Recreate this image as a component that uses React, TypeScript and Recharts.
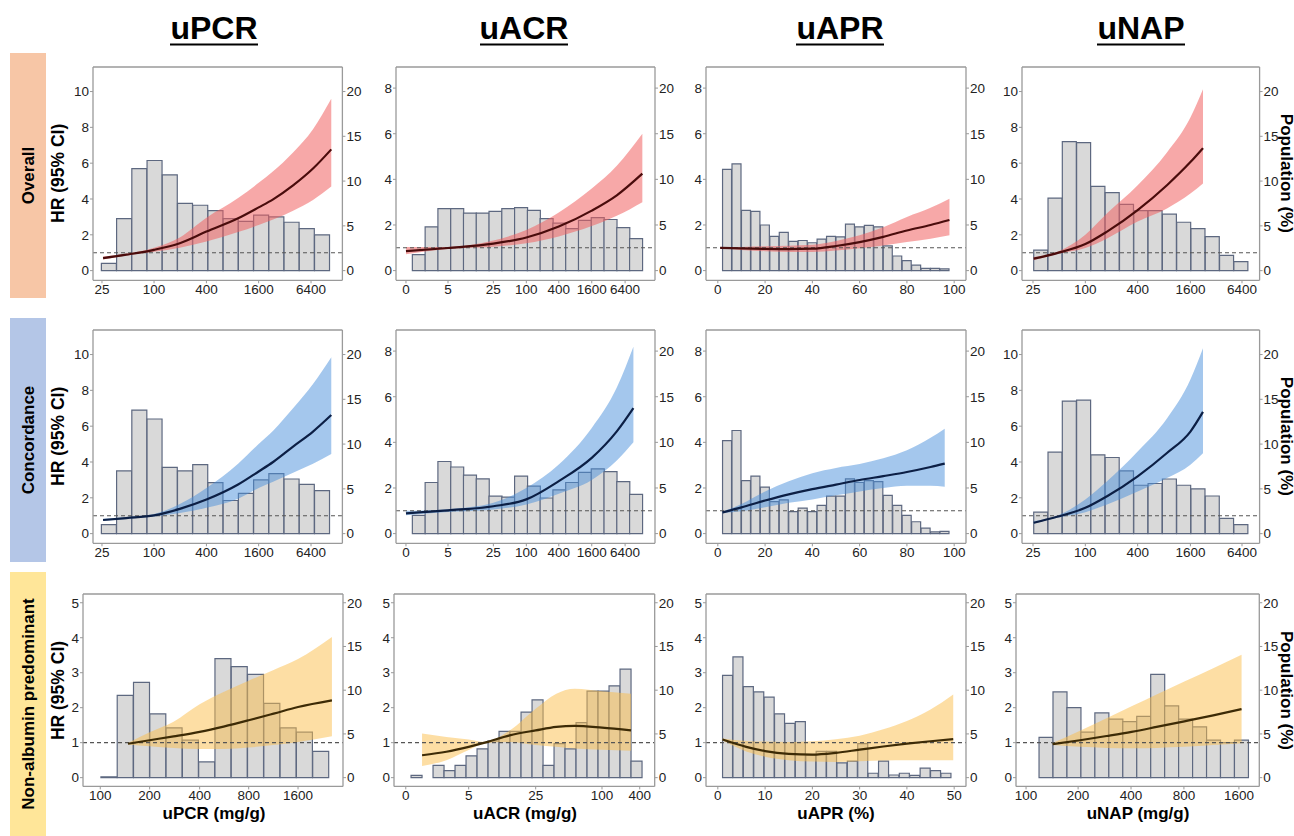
import React from 'react';
import { ComposedChart, Bar, Area, Line, XAxis, YAxis, ReferenceLine } from 'recharts';

// ---------- tick labels ----------
const pcrLabels = ['25', '100', '400', '1600', '6400'];
const acrLabels = ['0', '5', '25', '100', '400', '1600', '6400'];
const aprLabels = ['0', '20', '40', '60', '80', '100'];
const napLabels = ['25', '100', '400', '1600', '6400'];
const pcrNapLabels = ['100', '200', '400', '800', '1600'];
const acrNapLabels = ['0', '5', '25', '100', '400'];
const aprNapLabels = ['0', '10', '20', '30', '40', '50'];
const napNapLabels = ['100', '200', '400', '800', '1600'];

// tick positions (histogram-bin units for transformed axes, % for uAPR)
const pcrTicks = [0.04, 3.46, 6.9, 10.33, 13.77];
const acrTicks = [-0.5, 2.79, 6.34, 8.92, 11.46, 14.04, 16.65];
const aprTicks = [0, 20, 40, 60, 80, 100];
const napTicks = [-0.05, 3.61, 7.27, 10.96, 14.57];
const pcrNapTicks = [-0.04, 2.99, 6.06, 9.07, 12.1];
const acrNapTicks = [-0.48, 5.24, 11.33, 17.36, 20.79];
const aprNapTicks = [0, 10, 20, 30, 40, 50];
const napNapTicks = [-0.93, 2.8, 6.59, 10.38, 14.32];

const hrTicks10 = [0, 2, 4, 6, 8, 10];
const hrTicks8 = [0, 2, 4, 6, 8];
const hrTicks5 = [0, 1, 2, 3, 4, 5];
const popTicks = [0, 5, 10, 15, 20];

// ---------- Row 1 : Overall ----------
const p1Pop = [0.8, 5.8, 11.4, 12.3, 10.7, 7.5, 7.3, 6.7, 5.8, 5.5, 6.2, 6.0, 5.4, 4.7, 4.0];
const pcrCurveX = [0.11, 1.64, 3.46, 5.15, 6.9, 8.98, 10.33, 11.28, 12.59, 13.9, 15.1];
const p1Hr = [0.7, 0.89, 1.16, 1.53, 2.18, 2.92, 3.53, 3.98, 4.76, 5.7, 6.77];
const p1Lo = [0.62, 0.84, 1.05, 1.28, 1.62, 2.15, 2.55, 2.85, 3.35, 3.95, 4.7];
const p1Hi = [0.79, 0.94, 1.28, 1.85, 2.95, 4.05, 4.9, 5.55, 6.6, 7.9, 9.6];

const p2Pop = [1.75, 4.8, 6.8, 6.8, 6.3, 6.3, 6.5, 6.8, 6.9, 6.6, 5.7, 5.2, 4.6, 5.5, 5.8, 5.6, 4.7, 3.5];
const p2X = [-0.5, 2.79, 6.34, 8.92, 11.46, 14.04, 16.0, 18.0];
const p2Hr = [0.85, 0.99, 1.18, 1.45, 1.93, 2.63, 3.3, 4.25];
const p2Lo = [0.72, 0.95, 1.05, 1.2, 1.5, 1.95, 2.4, 3.0];
const p2Hi = [1.04, 1.04, 1.32, 1.78, 2.55, 3.6, 4.6, 6.0];

const p3Pop = [11.1, 11.7, 6.6, 6.5, 5.0, 3.75, 4.2, 3.2, 3.3, 3.05, 3.45, 3.75, 3.7, 5.1, 4.8, 4.95, 4.8, 2.7, 1.6, 1.1, 0.6, 0.25, 0.25, 0.2];
const p3X = [1, 10, 20, 30, 40, 50, 60, 70, 80, 90, 98];
const p3Hr = [1.0, 0.97, 0.95, 0.94, 0.96, 1.08, 1.25, 1.48, 1.76, 2.0, 2.22];
const p3Lo = [0.99, 0.9, 0.85, 0.82, 0.82, 0.88, 0.98, 1.1, 1.25, 1.4, 1.55];
const p3Hi = [1.01, 1.04, 1.07, 1.09, 1.13, 1.3, 1.55, 1.9, 2.35, 2.75, 3.15];

const p4Pop = [2.3, 8.1, 14.4, 14.3, 9.4, 8.7, 7.4, 6.7, 6.7, 6.3, 5.4, 4.7, 3.8, 1.7, 1.0];
const napCurveX = [0, 1.63, 3.61, 5.13, 7.27, 9.32, 10.96, 11.84];
const p4Hr = [0.67, 0.98, 1.48, 2.18, 3.38, 4.77, 6.06, 6.84];
const p4Lo = [0.58, 0.93, 1.26, 1.8, 2.74, 3.47, 4.3, 4.86];
const p4Hi = [0.76, 1.04, 2.0, 3.2, 4.77, 6.6, 8.55, 10.13];

// ---------- Row 2 : Concordance ----------
const p5Pop = [1.0, 7.0, 13.8, 12.8, 7.4, 7.0, 7.7, 5.7, 3.7, 4.5, 6.0, 6.7, 6.1, 5.5, 4.8];
const p5Hr = [0.76, 0.87, 1.02, 1.38, 1.9, 2.74, 3.47, 4.0, 4.86, 5.7, 6.62];
const p5Lo = [0.7, 0.82, 0.95, 1.15, 1.44, 1.95, 2.55, 2.9, 3.4, 3.9, 4.44];
const p5Hi = [0.83, 0.93, 1.1, 1.65, 2.55, 3.9, 5.0, 5.75, 7.0, 8.35, 9.85];

const p6Pop = [2.0, 5.6, 7.9, 7.3, 6.4, 6.0, 4.1, 4.0, 6.3, 5.2, 3.9, 4.8, 5.6, 6.7, 7.1, 6.8, 5.7, 4.3];
const p6X = [-0.5, 2.79, 6.34, 8.92, 11.46, 14.04, 16.0, 17.3];
const p6Hr = [0.89, 1.02, 1.2, 1.5, 2.3, 3.32, 4.48, 5.5];
const p6Lo = [0.8, 0.95, 1.06, 1.28, 1.75, 2.35, 3.2, 4.0];
const p6Hi = [1.0, 1.07, 1.35, 2.0, 3.03, 4.63, 6.4, 8.19];

const p7Pop = [10.2, 11.3, 5.8, 6.3, 5.1, 3.5, 3.7, 2.4, 2.8, 2.4, 3.1, 4.1, 4.1, 6.0, 5.6, 5.8, 5.7, 4.2, 3.1, 2.0, 1.3, 0.6, 0.2, 0.25];
const p7X = [2, 10, 20, 30, 40, 50, 60, 70, 80, 90, 96];
const p7Hr = [0.93, 1.15, 1.45, 1.72, 1.95, 2.15, 2.35, 2.52, 2.7, 2.92, 3.07];
const p7Lo = [0.9, 0.98, 1.15, 1.35, 1.5, 1.68, 1.85, 2.0, 2.1, 2.1, 2.05];
const p7Hi = [0.96, 1.3, 1.85, 2.3, 2.65, 2.88, 3.05, 3.3, 3.65, 4.2, 4.6];

const p8Pop = [2.4, 9.1, 14.8, 14.9, 8.8, 8.5, 7.0, 5.4, 5.6, 6.1, 5.4, 5.0, 4.2, 1.7, 1.0];
const p8Hr = [0.61, 0.94, 1.44, 2.09, 3.2, 4.5, 5.7, 6.8];
const p8Lo = [0.55, 0.88, 1.2, 1.63, 2.35, 3.1, 3.85, 4.49];
const p8Hi = [0.7, 1.0, 1.9, 2.92, 4.58, 6.43, 8.6, 10.35];

// ---------- Row 3 : Non-albumin predominant ----------
const p9Pop = [0.1, 9.4, 10.9, 7.3, 5.7, 4.3, 1.8, 13.6, 12.7, 11.8, 8.5, 5.7, 5.2, 3.0];
const p9X = [1.66, 2.99, 4.46, 6.06, 7.53, 9.07, 10.6, 12.1, 14.18];
const p9Hr = [0.97, 1.07, 1.18, 1.31, 1.46, 1.64, 1.83, 2.02, 2.21];
const p9Lo = [0.95, 0.9, 0.85, 0.82, 0.82, 0.86, 0.93, 1.02, 1.18];
const p9Hi = [0.99, 1.3, 1.6, 2.1, 2.45, 2.77, 3.08, 3.39, 4.02];

const p10Pop = [0.25, 0, 1.4, 0.8, 1.4, 2.5, 3.3, 4.2, 5.3, 5.3, 7.5, 8.9, 1.4, 3.9, 3.3, 6.3, 9.9, 9.9, 10.5, 12.4, 1.9];
const p10X = [1.0, 3.21, 5.24, 6.7, 8.97, 11.33, 13.21, 14.88, 17.36, 20.0];
const p10Hr = [0.64, 0.74, 0.88, 1.0, 1.21, 1.35, 1.45, 1.48, 1.43, 1.35];
const p10Lo = [0.33, 0.5, 0.79, 0.98, 1.02, 0.93, 0.88, 0.83, 0.8, 0.77];
const p10Hi = [1.26, 1.16, 1.09, 1.02, 1.35, 1.97, 2.4, 2.54, 2.47, 2.4];

const p11Pop = [11.7, 13.8, 10.4, 9.8, 9.2, 7.3, 6.2, 6.4, 2.6, 3.0, 3.0, 1.7, 1.9, 3.9, 0.5, 1.9, 0.3, 0.5, 0.25, 1.1, 0.8, 0.5];
const p11X = [1, 6, 10, 15, 20, 25, 30, 35, 40, 45, 49.8];
const p11Hr = [1.09, 0.88, 0.76, 0.68, 0.66, 0.71, 0.8, 0.89, 0.97, 1.04, 1.1];
const p11Lo = [1.06, 0.75, 0.6, 0.5, 0.46, 0.45, 0.47, 0.49, 0.5, 0.5, 0.5];
const p11Hi = [1.12, 1.05, 1.03, 1.02, 1.04, 1.1, 1.2, 1.38, 1.62, 1.95, 2.38];

const p12Pop = [4.6, 9.8, 8.0, 5.2, 7.4, 6.7, 6.4, 7.0, 11.8, 8.2, 6.7, 5.8, 4.3, 4.0, 4.3];
const p12X = [0.98, 2.94, 4.84, 6.63, 8.42, 10.41, 12.48, 14.51];
const p12Hr = [0.96, 1.07, 1.19, 1.31, 1.45, 1.61, 1.78, 1.96];
const p12Lo = [0.93, 0.88, 0.85, 0.84, 0.85, 0.88, 0.93, 0.98];
const p12Hi = [0.99, 1.34, 1.7, 2.04, 2.38, 2.75, 3.13, 3.51];

// ---------- text ----------
const columnTitles = ['uPCR', 'uACR', 'uAPR', 'uNAP'];
const rowTitles = ['Overall', 'Concordance', 'Non-albumin predominant'];
const xTitles = ['uPCR (mg/g)', 'uACR (mg/g)', 'uAPR (%)', 'uNAP (mg/g)'];

// ---------- styling ----------
const FONT = '"Liberation Sans", Arial, Helvetica, sans-serif';
const THEMES: Record<string, { band: string; op: number; line: string }> = {
  overall: { band: '#f06060', op: 0.55, line: '#4a0c0c' },
  conc: { band: '#4a8fdb', op: 0.5, line: '#0c1f45' },
  nap: { band: '#fbbd4a', op: 0.5, line: '#3d2b06' },
};
const BORDER = '#9a9a9a';

type Cfg = {
  pops: number[]; binStart: number; binWidth: number;
  xDomain: [number, number]; ticks: number[]; tickLabels: string[];
  yDomain: [number, number]; yTicks: number[]; k: number;
  cx: number[]; hr: number[]; lo: number[]; hi: number[];
  theme: string;
};

const Y10: [number, number] = [-0.54, 11.37];
const Y8: [number, number] = [-0.425, 8.925];
const Y5: [number, number] = [-0.25, 5.25];

const panels: Cfg[] = [
  { pops: p1Pop, binStart: 0, binWidth: 1, xDomain: [-0.55, 15.83], ticks: pcrTicks, tickLabels: pcrLabels, yDomain: Y10, yTicks: hrTicks10, k: 2, cx: pcrCurveX, hr: p1Hr, lo: p1Lo, hi: p1Hi, theme: 'overall' },
  { pops: p2Pop, binStart: 0, binWidth: 1, xDomain: [-1.28, 18.99], ticks: acrTicks, tickLabels: acrLabels, yDomain: Y8, yTicks: hrTicks8, k: 2.5, cx: p2X, hr: p2Hr, lo: p2Lo, hi: p2Hi, theme: 'overall' },
  { pops: p3Pop, binStart: 2, binWidth: 4, xDomain: [-5, 105], ticks: aprTicks, tickLabels: aprLabels, yDomain: Y8, yTicks: hrTicks8, k: 2.5, cx: p3X, hr: p3Hr, lo: p3Lo, hi: p3Hi, theme: 'overall' },
  { pops: p4Pop, binStart: 0, binWidth: 1, xDomain: [-0.82, 15.8], ticks: napTicks, tickLabels: napLabels, yDomain: Y10, yTicks: hrTicks10, k: 2, cx: napCurveX, hr: p4Hr, lo: p4Lo, hi: p4Hi, theme: 'overall' },
  { pops: p5Pop, binStart: 0, binWidth: 1, xDomain: [-0.55, 15.83], ticks: pcrTicks, tickLabels: pcrLabels, yDomain: Y10, yTicks: hrTicks10, k: 2, cx: pcrCurveX, hr: p5Hr, lo: p5Lo, hi: p5Hi, theme: 'conc' },
  { pops: p6Pop, binStart: 0, binWidth: 1, xDomain: [-1.28, 18.99], ticks: acrTicks, tickLabels: acrLabels, yDomain: Y8, yTicks: hrTicks8, k: 2.5, cx: p6X, hr: p6Hr, lo: p6Lo, hi: p6Hi, theme: 'conc' },
  { pops: p7Pop, binStart: 2, binWidth: 4, xDomain: [-5, 105], ticks: aprTicks, tickLabels: aprLabels, yDomain: Y8, yTicks: hrTicks8, k: 2.5, cx: p7X, hr: p7Hr, lo: p7Lo, hi: p7Hi, theme: 'conc' },
  { pops: p8Pop, binStart: 0, binWidth: 1, xDomain: [-0.82, 15.8], ticks: napTicks, tickLabels: napLabels, yDomain: Y10, yTicks: hrTicks10, k: 2, cx: napCurveX, hr: p8Hr, lo: p8Lo, hi: p8Hi, theme: 'conc' },
  { pops: p9Pop, binStart: 0, binWidth: 1, xDomain: [-1.1, 14.86], ticks: pcrNapTicks, tickLabels: pcrNapLabels, yDomain: Y5, yTicks: hrTicks5, k: 4, cx: p9X, hr: p9Hr, lo: p9Lo, hi: p9Hi, theme: 'nap' },
  { pops: p10Pop, binStart: 0, binWidth: 1, xDomain: [-1.55, 22.15], ticks: acrNapTicks, tickLabels: acrNapLabels, yDomain: Y5, yTicks: hrTicks5, k: 4, cx: p10X, hr: p10Hr, lo: p10Lo, hi: p10Hi, theme: 'nap' },
  { pops: p11Pop, binStart: 1, binWidth: 2.2, xDomain: [-2.5, 52.5], ticks: aprNapTicks, tickLabels: aprNapLabels, yDomain: Y5, yTicks: hrTicks5, k: 4, cx: p11X, hr: p11Hr, lo: p11Lo, hi: p11Hi, theme: 'nap' },
  { pops: p12Pop, binStart: 0, binWidth: 1, xDomain: [-1.65, 15.78], ticks: napNapTicks, tickLabels: napNapLabels, yDomain: Y5, yTicks: hrTicks5, k: 4, cx: p12X, hr: p12Hr, lo: p12Lo, hi: p12Hi, theme: 'nap' },
];

// plot-area rectangles (page px)
const ROWS = [{ top: 66.7, h: 213.3 }, { top: 329.7, h: 213.3 }, { top: 594.3, h: 192.4 }];
const COLS = [
  [[93.3, 342.7], [396, 655], [706, 966], [1021.7, 1259.3]],
  [[93.3, 342.7], [396, 655], [706, 966], [1021.7, 1259.3]],
  [[82.7, 342.7], [394.3, 655], [706, 966], [1016, 1259.3]],
];

const TICK = { fontSize: 13.5, fill: '#222', fontFamily: FONT };
const AXIS_LINE = { stroke: BORDER, strokeWidth: 1.3 };
const TICK_LINE = { stroke: BORDER, strokeWidth: 1 };

function Panel({ cfg, left, right, top, h }: { cfg: Cfg; left: number; right: number; top: number; h: number }) {
  const LW = 34, RW = 34, MT = 3, TOPH = 1, XH = 24;
  const plotW = right - left;
  const width = plotW + LW + RW;
  const height = h + MT + TOPH + XH;
  const [x0, x1] = cfg.xDomain;
  const span = x1 - x0;
  const binEnd = cfg.binStart + cfg.pops.length * cfg.binWidth;
  const padL = ((cfg.binStart - x0) / span) * plotW;
  const padR = ((x1 - binEnd) / span) * plotW;
  const binData = cfg.pops.map((p, i) => ({ bin: i, pop: p }));
  const curve = cfg.cx.map((x, i) => ({ x, hr: cfg.hr[i], band: [cfg.lo[i], cfg.hi[i]] }));
  const th = THEMES[cfg.theme];
  const [y0, y1] = cfg.yDomain;
  const fmt = (v: number) => {
    let best = 0;
    cfg.ticks.forEach((t, i) => { if (Math.abs(t - v) < Math.abs(cfg.ticks[best] - v)) best = i; });
    return cfg.tickLabels[best];
  };
  return (
    <div style={{ position: 'absolute', left: left - LW, top: top - MT - TOPH }}>
      <ComposedChart width={width} height={height} data={binData} margin={{ top: MT, right: 0, bottom: 0, left: 0 }} barCategoryGap={0} barGap={0}>
        <XAxis xAxisId="num" dataKey="x" type="number" domain={[x0, x1]} allowDataOverflow ticks={cfg.ticks} interval={0}
          tickFormatter={fmt} height={XH} tickSize={3} tickMargin={1} axisLine={AXIS_LINE} tickLine={TICK_LINE} tick={TICK} />
        <XAxis xAxisId="bins" dataKey="bin" type="category" hide height={0} padding={{ left: padL, right: padR }} />
        <XAxis xAxisId="top" orientation="top" type="number" domain={[x0, x1]} allowDataOverflow height={TOPH} tick={false} tickLine={false} axisLine={AXIS_LINE} />
        <YAxis yAxisId="left" type="number" domain={[y0, y1]} allowDataOverflow ticks={cfg.yTicks} interval={0} width={LW}
          tickSize={3} tickMargin={1} axisLine={AXIS_LINE} tickLine={TICK_LINE} tick={TICK} />
        <YAxis yAxisId="right" orientation="right" type="number" domain={[y0 * cfg.k, y1 * cfg.k]} allowDataOverflow ticks={popTicks} interval={0} width={RW}
          tickSize={3} tickMargin={1} axisLine={AXIS_LINE} tickLine={TICK_LINE} tick={TICK} />
        <Bar xAxisId="bins" yAxisId="right" dataKey="pop" fill="#d9d9d9" stroke="#5d6880" strokeWidth={1.2} isAnimationActive={false} zIndex={90} />
        <Area xAxisId="num" yAxisId="left" data={curve} dataKey="band" type="monotone" stroke="none" fill={th.band} fillOpacity={th.op}
          isAnimationActive={false} dot={false} activeDot={false} zIndex={100} />
        <ReferenceLine xAxisId="num" yAxisId="left" y={1} stroke="#555" strokeDasharray="4 3" strokeWidth={1.1} zIndex={110} />
        <Line xAxisId="num" yAxisId="left" data={curve} dataKey="hr" type="monotone" stroke={th.line} strokeWidth={2.2}
          dot={false} activeDot={false} isAnimationActive={false} zIndex={400} />
      </ComposedChart>
    </div>
  );
}

const ROW_BOX = [
  { y: 53, h: 245, fill: '#f7c6a6' },
  { y: 318, h: 244, fill: '#b4c6e7' },
  { y: 572, h: 264, fill: '#ffe699' },
];
const TITLE_X = [214, 524, 840, 1141];
const XTITLE_X = [214, 525, 836, 1138];

export default function App() {
  return (
    <div style={{ position: 'absolute', left: 0, top: 0, width: 1294, height: 836, background: '#fff', fontFamily: FONT, overflow: 'hidden' }}>
      <svg width={1294} height={836} style={{ position: 'absolute', left: 0, top: 0 }}>
        {ROW_BOX.map((b, i) => (
          <g key={i}>
            <rect x={10} y={b.y} width={36} height={b.h} fill={b.fill} />
            <text transform={`translate(28, ${b.y + b.h / 2}) rotate(-90)`} textAnchor="middle" dominantBaseline="central"
              fontSize={17} fontWeight="bold" fill="#000" fontFamily={FONT}>{rowTitles[i]}</text>
          </g>
        ))}
        {columnTitles.map((t, i) => (
          <g key={t}>
            <text x={TITLE_X[i]} y={39} textAnchor="middle" fontSize={32} fontWeight="bold" fill="#000" fontFamily={FONT}>{t}</text>
            <line x1={TITLE_X[i] - 44} x2={TITLE_X[i] + 44} y1={44.5} y2={44.5} stroke="#000" strokeWidth={2} />
          </g>
        ))}
        {ROWS.map((r, i) => (
          <g key={i}>
            <text transform={`translate(58, ${r.top + r.h / 2}) rotate(-90)`} textAnchor="middle" dominantBaseline="central"
              fontSize={17.5} fontWeight="bold" fill="#000" fontFamily={FONT}>HR (95% CI)</text>
            <text transform={`translate(1286, ${r.top + r.h / 2}) rotate(90)`} textAnchor="middle" dominantBaseline="central"
              fontSize={17} fontWeight="bold" fill="#000" fontFamily={FONT}>Population (%)</text>
          </g>
        ))}
        {xTitles.map((t, i) => (
          <text key={t} x={XTITLE_X[i]} y={819} textAnchor="middle" fontSize={17} fontWeight="bold" fill="#000" fontFamily={FONT}>{t}</text>
        ))}
      </svg>
      {panels.map((cfg, i) => {
        const r = Math.floor(i / 4), c = i % 4;
        const [l, rt] = COLS[r][c];
        return <Panel key={i} cfg={cfg} left={l} right={rt} top={ROWS[r].top} h={ROWS[r].h} />;
      })}
    </div>
  );
}
